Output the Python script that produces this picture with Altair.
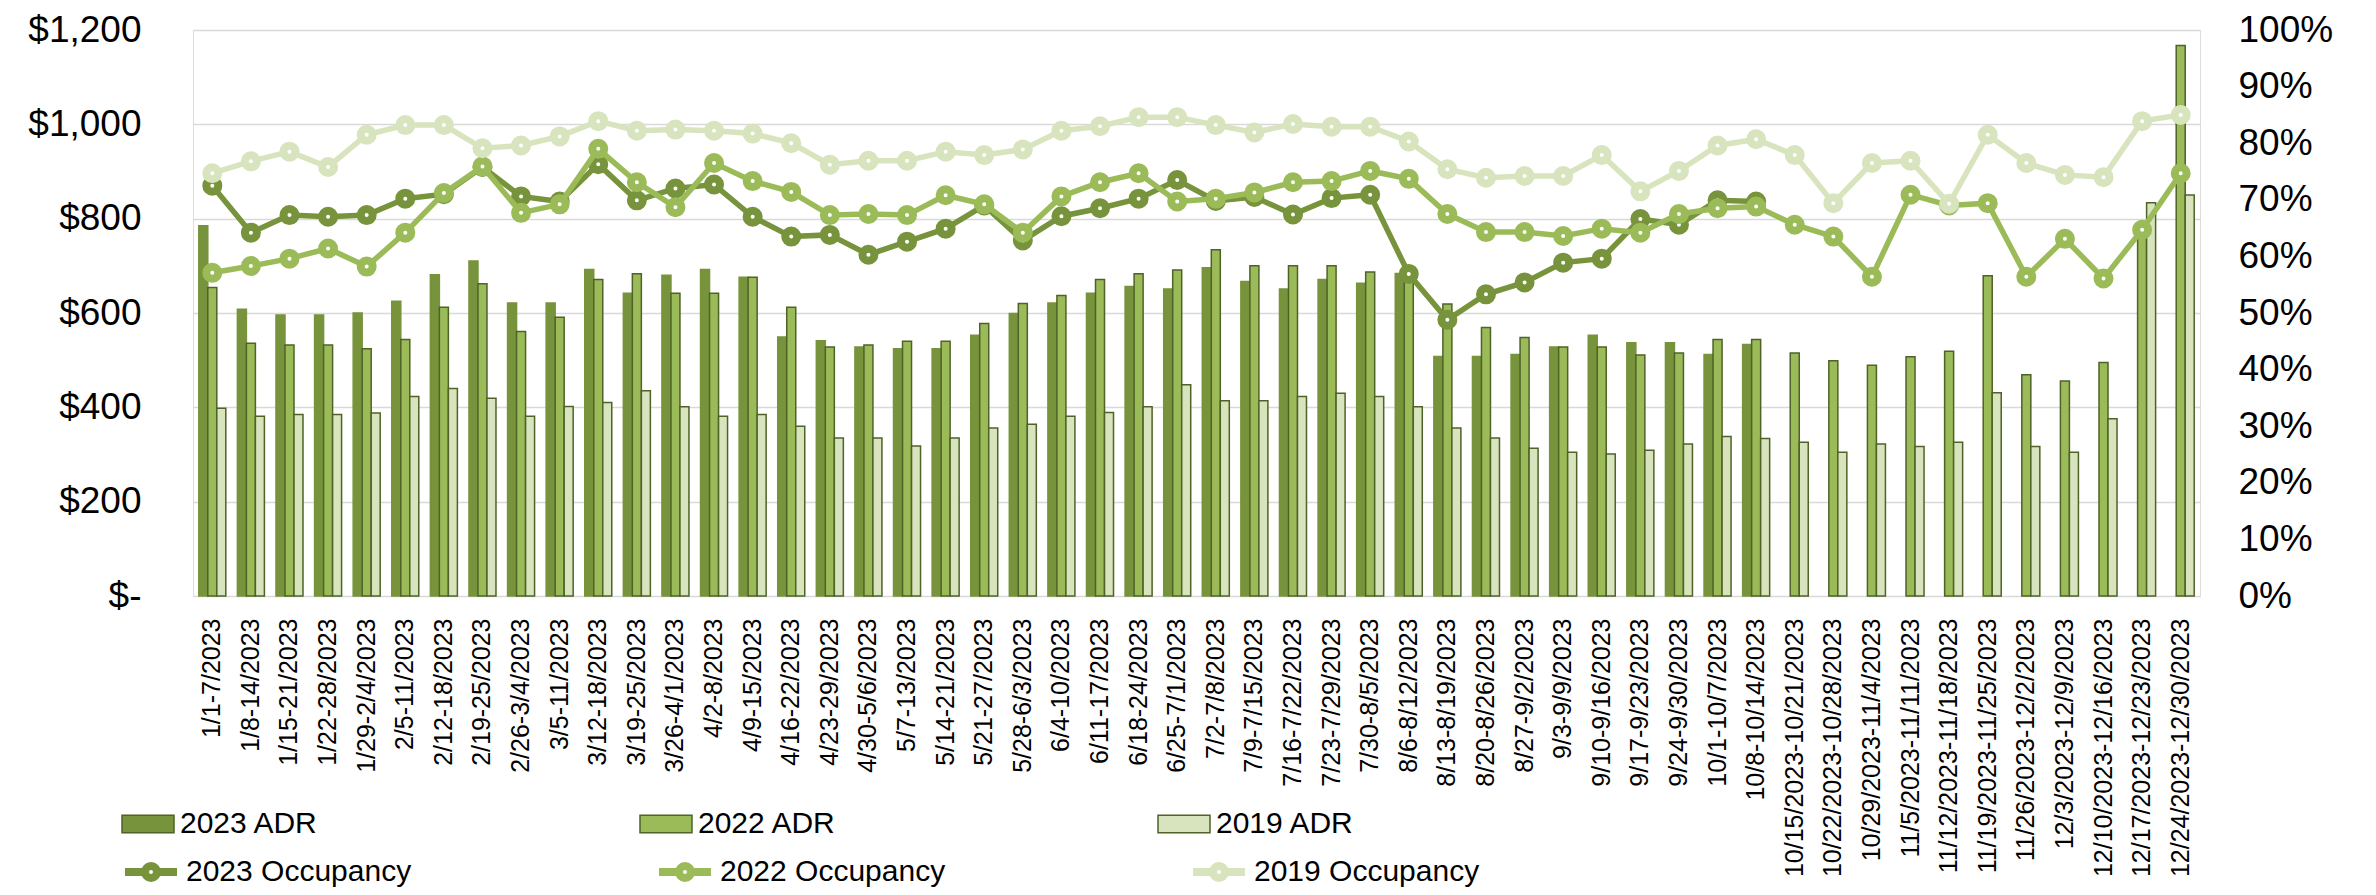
import altair as alt
import pandas as pd

FONT = "Liberation Sans"

weeks = [
    "1/1-7/2023", "1/8-14/2023", "1/15-21/2023", "1/22-28/2023", "1/29-2/4/2023",
    "2/5-11/2023", "2/12-18/2023", "2/19-25/2023", "2/26-3/4/2023", "3/5-11/2023",
    "3/12-18/2023", "3/19-25/2023", "3/26-4/1/2023", "4/2-8/2023", "4/9-15/2023",
    "4/16-22/2023", "4/23-29/2023", "4/30-5/6/2023", "5/7-13/2023", "5/14-21/2023",
    "5/21-27/2023", "5/28-6/3/2023", "6/4-10/2023", "6/11-17/2023", "6/18-24/2023",
    "6/25-7/1/2023", "7/2-7/8/2023", "7/9-7/15/2023", "7/16-7/22/2023", "7/23-7/29/2023",
    "7/30-8/5/2023", "8/6-8/12/2023", "8/13-8/19/2023", "8/20-8/26/2023", "8/27-9/2/2023",
    "9/3-9/9/2023", "9/10-9/16/2023", "9/17-9/23/2023", "9/24-9/30/2023", "10/1-10/7/2023",
    "10/8-10/14/2023", "10/15/2023-10/21/2023", "10/22/2023-10/28/2023", "10/29/2023-11/4/2023",
    "11/5/2023-11/11/2023", "11/12/2023-11/18/2023", "11/19/2023-11/25/2023",
    "11/26/2023-12/2/2023", "12/3/2023-12/9/2023", "12/10/2023-12/16/2023",
    "12/17/2023-12/23/2023", "12/24/2023-12/30/2023",
]

bar_series = ["2023 ADR", "2022 ADR", "2019 ADR"]
occ_series = ["2023 Occupancy", "2022 Occupancy", "2019 Occupancy"]

adr_2023 = [785, 608, 596, 596, 600, 625, 681, 710, 621, 621,
            692, 642, 680, 692, 676, 549, 541, 528, 524, 524,
            553, 599, 621, 642, 656, 651, 696, 667, 651, 671,
            663, 684, 508, 508, 512, 528, 553, 537, 537, 512, 533,
            None, None, None, None, None, None, None, None, None, None, None]
adr_2022 = [654, 536, 532, 532, 524, 544, 612, 662, 561, 591,
            671, 683, 642, 642, 676, 612, 528, 532, 540, 540,
            578, 620, 637, 671, 683, 691, 734, 700, 700, 700,
            687, 680, 619, 569, 548, 528, 528, 511, 515, 544,
            544, 515, 499, 489, 507, 519, 679, 469, 456, 495,
            790, 1167]
adr_2019 = [398, 381, 385, 385, 388, 423, 440, 419, 381, 402,
            410, 435, 401, 381, 385, 360, 335, 335, 318, 335,
            356, 364, 381, 389, 401, 448, 414, 414, 423, 430,
            423, 401, 356, 335, 313, 305, 301, 309, 322, 338,
            334, 326, 305, 322, 317, 326, 431, 317, 305, 376,
            834, 850]

occ_2023 = [72.5, 64.2, 67.3, 67.0, 67.3, 70.2, 71.0, 75.8, 70.6, 69.7,
            76.3, 69.9, 72.0, 72.7, 67.0, 63.5, 63.8, 60.3, 62.6, 64.9,
            69.0, 62.8, 67.1, 68.5, 70.2, 73.5, 69.8, 70.5, 67.4, 70.3,
            70.9, 56.9, 48.8, 53.3, 55.4, 58.9, 59.6, 66.6, 65.6, 69.9, 69.7,
            None, None, None, None, None, None, None, None, None, None, None]
occ_2022 = [57.1, 58.3, 59.6, 61.4, 58.2, 64.2, 71.2, 75.9, 67.7, 69.2,
            79.0, 73.1, 68.7, 76.5, 73.3, 71.4, 67.3, 67.5, 67.3, 70.8,
            69.2, 64.2, 70.6, 73.1, 74.7, 69.7, 70.2, 71.3, 73.1, 73.3,
            75.1, 73.7, 67.5, 64.3, 64.3, 63.6, 64.9, 64.2, 67.5, 68.5,
            68.8, 65.6, 63.5, 56.4, 70.9, 69.0, 69.4, 56.4, 63.1, 56.1,
            64.7, 74.7]
occ_2019 = [74.7, 76.8, 78.5, 75.8, 81.5, 83.2, 83.2, 79.1, 79.6, 81.2,
            83.9, 82.2, 82.4, 82.2, 81.7, 80.0, 76.2, 76.9, 76.9, 78.5,
            77.9, 78.9, 82.2, 83.0, 84.6, 84.6, 83.2, 81.9, 83.4, 82.9,
            82.9, 80.3, 75.4, 73.9, 74.2, 74.2, 77.9, 71.5, 75.1, 79.6,
            80.7, 77.9, 69.4, 76.5, 76.9, 69.3, 81.5, 76.5, 74.4, 74.0,
            83.9, 85.0]

bar_colors = ["#77933C", "#9BBB59", "#D7E4BD"]
occ_colors = ["#77933C", "#9BBB59", "#D7E4BD"]
BORDER = "#4F6228"

# ---- tables built from the arrays ----
bar_rows = []
for i, w in enumerate(weeks):
    for s, arr in zip(bar_series, [adr_2023, adr_2022, adr_2019]):
        if arr[i] is not None:
            bar_rows.append({"week": w, "series": s, "adr": arr[i]})
bars_df = pd.DataFrame(bar_rows)

occ_rows = []
for i, w in enumerate(weeks):
    for s, arr in zip(occ_series, [occ_2023, occ_2022, occ_2019]):
        if arr[i] is not None:
            occ_rows.append({"week": w, "series": s, "occ": arr[i] / 100.0})
occ_df = pd.DataFrame(occ_rows)

RECT_SYM = "M-1,-0.34L1,-0.34L1,0.34L-1,0.34Z"
LINE_SYM = ("M-1,0L-0.23,0M0.23,0L1,0"
            "M-0.23,0A0.23,0.23,0,1,1,0.23,0A0.23,0.23,0,1,1,-0.23,0Z")

x_scale = alt.Scale(domain=weeks, paddingInner=0.3, paddingOuter=0.15)
x_axis = alt.Axis(title=None, labelAngle=270, labelFontSize=25, labelPadding=22,
                  labelLimit=600, labelOverlap=False, domain=False, ticks=False,
                  labelColor="#000000", labelFont=FONT, grid=False)

left_axis = alt.Axis(title=None, values=[0, 200, 400, 600, 800, 1000, 1200],
                     labelExpr="datum.value == 0 ? '$-' : '$' + format(datum.value, ',')",
                     grid=True, gridColor="#D9D9D9", gridWidth=1.5, domain=False,
                     ticks=False, labelFontSize=37, labelPadding=52, labelFont=FONT,
                     labelColor="#000000")

right_axis = alt.Axis(title=None, orient="right",
                      values=[0, 0.1, 0.2, 0.3, 0.4, 0.5, 0.6, 0.7, 0.8, 0.9, 1.0],
                      format=".0%", grid=False, domain=False, ticks=False,
                      labelFontSize=37, labelPadding=38, labelFont=FONT,
                      labelColor="#000000")

bar_legend = alt.Legend(title=None, orient="none", legendX=-72, legendY=767,
                        direction="horizontal", columns=3, columnPadding=318,
                        symbolType=RECT_SYM, symbolSize=2704,
                        symbolStrokeColor=BORDER, symbolStrokeWidth=1.5,
                        labelFontSize=30, labelFont=FONT, labelColor="#000000",
                        labelOffset=5, padding=0, rowPadding=0, labelLimit=600)

occ_legend = alt.Legend(title=None, orient="none", legendX=-72, legendY=812,
                        direction="horizontal", columns=3, columnPadding=231,
                        symbolType=LINE_SYM, symbolSize=2704,
                        symbolStrokeWidth=8, symbolFillColor="white",
                        labelFontSize=30, labelFont=FONT, labelColor="#000000",
                        labelOffset=5, padding=0, rowPadding=0, labelLimit=600)

bars = alt.Chart(bars_df).mark_bar(strokeWidth=1.5).encode(
    x=alt.X("week:N", sort=weeks, scale=x_scale, axis=x_axis),
    xOffset=alt.XOffset("series:N", sort=bar_series,
                        scale=alt.Scale(domain=bar_series, paddingInner=0, paddingOuter=0)),
    y=alt.Y("adr:Q", scale=alt.Scale(domain=[0, 1200], nice=False), axis=left_axis),
    fill=alt.Fill("series:N", sort=bar_series,
                  scale=alt.Scale(domain=bar_series, range=bar_colors), legend=bar_legend),
    stroke=alt.condition("datum.series === '2023 ADR'", alt.value("#77933C"), alt.value(BORDER)),
)

occ_scale = alt.Scale(domain=[0, 1], nice=False)
stroke_scale = alt.Scale(domain=occ_series, range=occ_colors)

line_layers = []
for s in occ_series:
    sub = occ_df[occ_df["series"] == s]
    base = alt.Chart(sub).encode(
        x=alt.X("week:N", sort=weeks, scale=x_scale, axis=x_axis),
        y=alt.Y("occ:Q", scale=occ_scale, axis=right_axis),
        stroke=alt.Stroke("series:N", sort=occ_series, scale=stroke_scale, legend=occ_legend),
    )
    line_layers.append(base.mark_line(strokeWidth=5.5))
    line_layers.append(base.mark_point(shape="circle", size=144, strokeWidth=8,
                                       fill="white", fillOpacity=1, opacity=1))

lines = alt.layer(*line_layers)

chart = alt.layer(bars, lines).resolve_scale(y="independent").properties(
    width=2007, height=566,
    padding={"left": 185, "top": 22, "right": 152, "bottom": 291},
    autosize=alt.AutoSizeParams(type="none"),
    background="white",
).configure_view(stroke=None).configure(font=FONT)

chart.save("out.html", embed_options={"renderer": "svg", "actions": False})
